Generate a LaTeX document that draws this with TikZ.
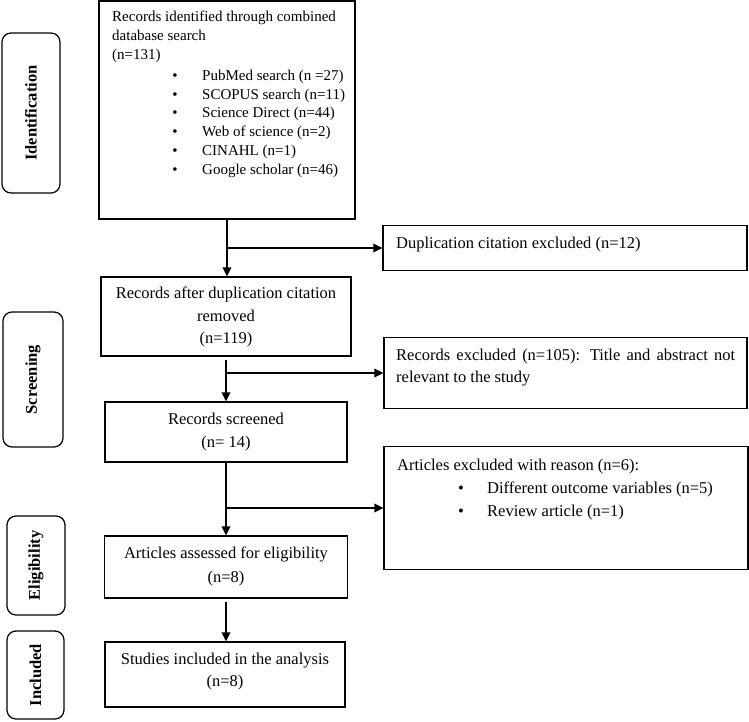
\documentclass[tikz,border=0pt]{standalone}
\usepackage{fontspec}
\setmainfont{Liberation Serif}
\usetikzlibrary{arrows.meta}
\begin{document}
\begin{tikzpicture}[x=1pt,y=-1pt,
  box/.style={draw, line width=1.25pt, inner sep=0pt},
  phase/.style={draw, line width=1.25pt, rounded corners=9pt, inner sep=0pt},
  arr/.style={line width=1.8pt, -{Triangle[length=9pt,width=8.5pt]}},
  stxt/.style={font=\fontsize{15}{19}\selectfont, inner sep=0pt},
  txt/.style={font=\fontsize{16.5}{23}\selectfont, inner sep=0pt},
  lab/.style={font=\fontsize{16.5}{20}\selectfont\bfseries, rotate=90, inner sep=0pt}]
\useasboundingbox (0,0) rectangle (749,721);

% phase labels
\node[phase, minimum width=58pt, minimum height=160pt] (pid) at (31,113) {};
\node[lab] (pidt) at (pid.center) {Identification};
\node[phase, minimum width=60pt, minimum height=135pt] (pscr) at (33,379.5) {};
\node[lab] (pscrt) at (pscr.center) {Screening};
\node[phase, minimum width=58pt, minimum height=99pt] (peli) at (36,565.5) {};
\node[lab] (pelit) at (peli.center) {Eligibility};
\node[phase, minimum width=57pt, minimum height=88pt] (pinc) at (35.5,675) {};
\node[lab] (pinct) at (pinc.center) {Included};

% boxes
\node[box, minimum width=256pt, minimum height=218pt] (b1) at (227,110) {};
\node[box, minimum width=364pt, minimum height=45pt] (dup) at (565,248) {};
\node[box, minimum width=250pt, minimum height=79pt] (b2) at (226,316.5) {};
\node[box, minimum width=363pt, minimum height=71pt] (rex) at (565.5,373) {};
\node[box, minimum width=242pt, minimum height=60pt] (b3) at (226,432) {};
\node[box, minimum width=364pt, minimum height=123pt] (aex) at (566,508) {};
\node[box, minimum width=243pt, minimum height=62pt] (b4) at (226,567) {};
\node[box, minimum width=240pt, minimum height=65pt] (b5) at (225,674.5) {};

% box 1 text
\node[stxt, anchor=base west] (t1a) at (112,21.5) {Records identified through combined};
\node[stxt, anchor=base west] (t1b) at (112,40.5) {database search};
\node[stxt, anchor=base west] (t1c) at (112,59.5) {(n=131)};
\foreach \yy/\tt [count=\i] in {80.5/PubMed search (n =27), 99.5/SCOPUS search (n=11), 117.5/Science Direct (n=44), 136.5/Web of science (n=2), 155.5/CINAHL (n=1), 174.5/Google scholar (n=46)}{
  \node[stxt, anchor=base] (bu\i) at (175,\yy) {\textbullet};
  \node[stxt, anchor=base west] (bt\i) at (202,\yy) {\tt};
}

% other texts
\node[txt, anchor=base west] (tdup) at (396,248) {Duplication citation excluded (n=12)};
\node[txt, anchor=base] (t2a) at (226,298) {Records after duplication citation};
\node[txt, anchor=base] (t2b) at (226,321) {removed};
\node[txt, anchor=base] (t2c) at (226,343) {(n=119)};
\node[txt, anchor=base west] (trxa) at (396,360) {\makebox[339pt][s]{Records excluded (n=105): Title and abstract not}};
\node[txt, anchor=base west] (trxb) at (396,382) {relevant to the study};
\node[txt, anchor=base] (t3a) at (226,424) {Records screened};
\node[txt, anchor=base] (t3b) at (226,447) {(n= 14)};
\node[txt, anchor=base west] (taxa) at (397,470) {Articles excluded with reason (n=6):};
\node[txt, anchor=base] (taxb1) at (461,493) {\textbullet};
\node[txt, anchor=base west] (taxb) at (487,493) {Different outcome variables (n=5)};
\node[txt, anchor=base] (taxc1) at (461,516) {\textbullet};
\node[txt, anchor=base west] (taxc) at (487,516) {Review article (n=1)};
\node[txt, anchor=base] (t4a) at (226,558) {Articles assessed for eligibility};
\node[txt, anchor=base] (t4b) at (226,582) {(n=8)};
\node[txt, anchor=base] (t5a) at (225,664) {Studies included in the analysis};
\node[txt, anchor=base] (t5b) at (225,686) {(n=8)};

% connectors
\draw[arr] (b1.south) -- (b1.south |- b2.north);
\draw[arr] (b1.south |- dup.west) -- (dup.west);
\draw[arr] ([yshift=-3pt]b2.south) -- (b2.south |- b3.north);
\draw[arr] (b2.south |- rex.west) -- (rex.west);
\draw[arr] (b3.south) -- (b3.south |- b4.north);
\draw[arr] (b3.south |- aex.west) -- (aex.west);
\draw[arr] ([yshift=-3pt]b4.south) -- (b4.south |- b5.north);
\end{tikzpicture}
\end{document}
